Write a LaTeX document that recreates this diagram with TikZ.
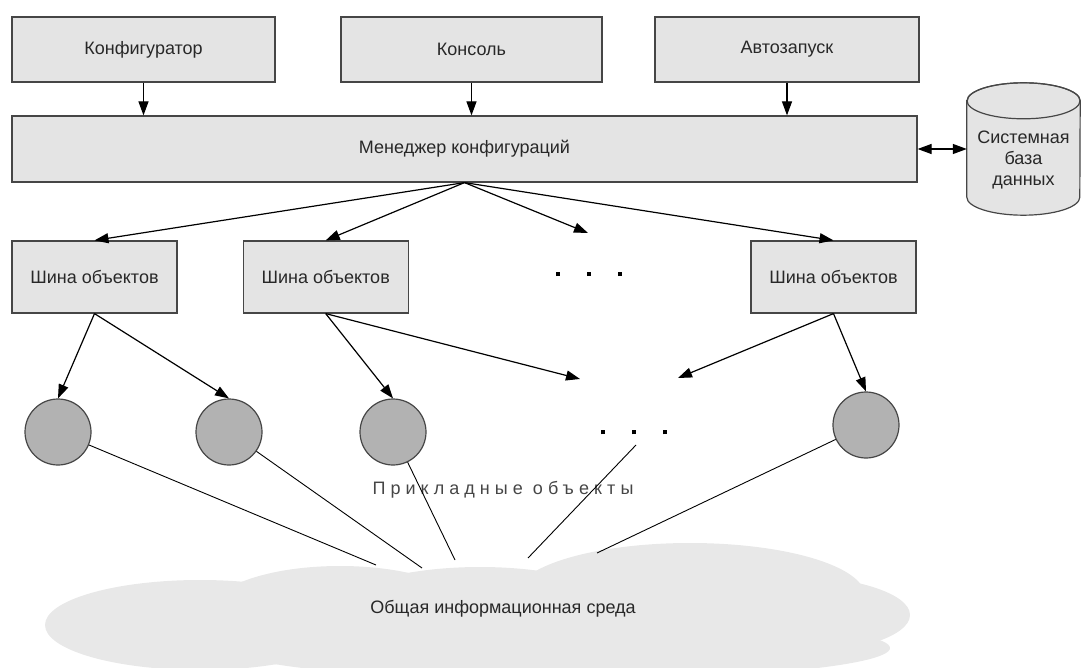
\documentclass[tikz,border=0pt]{standalone}
\usepackage{fontspec}
\setmainfont{Liberation Sans}
\usetikzlibrary{positioning,arrows.meta}

\definecolor{boxfill}{RGB}{228,228,228}
\definecolor{boxline}{RGB}{70,70,70}
\definecolor{objfill}{RGB}{178,178,178}
\definecolor{cloudfill}{RGB}{232,232,232}
\definecolor{inktext}{RGB}{40,40,40}

\newcommand{\dotrow}{\rule{4.5pt}{4.5pt}\hspace{26.5pt}\rule{4.5pt}{4.5pt}\hspace{26.5pt}\rule{4.5pt}{4.5pt}}

\begin{document}
\begin{tikzpicture}[x=1pt, y=-1pt,
    font=\fontsize{18}{21}\selectfont,
    >={Triangle[length=14pt,width=10pt]},
    box/.style={draw=boxline, fill=boxfill, line width=1.2pt, text=inktext, inner sep=0pt},
    topbox/.style={box, minimum height=65pt},
    busbox/.style={box, minimum width=165pt, minimum height=72pt},
    obj/.style={circle, draw=boxline, fill=objfill, line width=1.2pt, minimum size=66pt, inner sep=0pt},
    arr/.style={->, line width=1.2pt},
    link/.style={line width=0.9pt}]

\useasboundingbox (0,0) rectangle (1081,668);

   % cloud
   \begin{scope}
   \clip (0,0) rectangle (1081,668);
   \fill[cloudfill] (200,625) ellipse [x radius=155pt, y radius=45pt];
   \fill[cloudfill] (340,612) ellipse [x radius=130pt, y radius=46pt];
   \fill[cloudfill] (480,622) ellipse [x radius=160pt, y radius=55pt];
   \fill[cloudfill] (690,596) ellipse [x radius=175pt, y radius=53pt];
   \fill[cloudfill] (780,615) ellipse [x radius=130pt, y radius=40pt];
   \fill[cloudfill] (560,648) ellipse [x radius=330pt, y radius=32pt];
   \end{scope}

   % top row
   \node[topbox, minimum width=263pt] (konf) at (143.5,49.5) {Конфигуратор};
   \node[topbox, minimum width=261pt] (kons) at (471.5,49.5) {Консоль};
   \node[topbox, minimum width=264pt] (avto) at (787,49.5) {Автозапуск};
   \node[box, minimum width=905pt, minimum height=66pt] (mgr) at (464.5,149) {Менеджер конфигураций};

   % system database
   \node[minimum width=113pt, minimum height=132pt, inner sep=0pt] (db) at (1023.5,149) {};
   \draw[draw=boxline, fill=boxfill, line width=1.2pt]
       ([yshift=-18pt]db.north west) -- ([yshift=18pt]db.south west)
       arc[start angle=180, end angle=360, x radius=56.5pt, y radius=18pt]
       -- ([yshift=-18pt]db.north east)
       arc[start angle=0, end angle=180, x radius=56.5pt, y radius=18pt] -- cycle;
   \draw[draw=boxline, line width=1.2pt] ([yshift=-18pt]db.north) ellipse [x radius=56.5pt, y radius=18pt];
   \node[align=center, text=inktext] (dbtext) at (1023.5,160) {Системная\\база\\данных};

   % object buses
   \node[busbox] (bus1) at (94.5,277) {Шина объектов};
   \node[busbox, right=65pt of bus1] (bus2) {Шина объектов};
   \node[busbox] (bus3) at (833.5,277) {Шина объектов};
   \node[inner sep=0pt] (dotsA) at (589,274) {\dotrow};

   % application objects
   \node[obj] (obj1) at (58,432) {};
   \node[obj] (obj2) at (229,432) {};
   \node[obj] (obj3) at (393,432) {};
   \node[obj] (obj4) at (866,425) {};
   \node[inner sep=0pt] (dotsB) at (634,432) {\dotrow};

   \node[text=boxline] (apptxt) at (503,490) {\addfontfeatures{LetterSpace=28}Прикладные объекты};
   \node[text=inktext] (cloudtxt) at (503,609) {Общая информационная среда};

   % free ends
   \coordinate (gapA) at (588,233);
   \coordinate (gapB) at (580,379);
   \coordinate (gapC) at (678,378);
   \coordinate (dotsend) at (636,445);
   \coordinate (cl1) at (376,565);
   \coordinate (cl2) at (422,568);
   \coordinate (cl3) at (455,560);
   \coordinate (cl4) at (528,558);
   \coordinate (cl5) at (597,553);

   % arrows
   \draw[arr] (konf.south) -- (konf.south |- mgr.north);
   \draw[arr] (kons.south) -- (kons.south |- mgr.north);
   \draw[arr] (avto.south) -- (avto.south |- mgr.north);
   \draw[<->, line width=1.2pt] (mgr) -- (db);

   \draw[arr] (mgr.south) -- (bus1.north);
   \draw[arr] (mgr.south) -- (bus2.north);
   \draw[arr] (mgr.south) -- (gapA);
   \draw[arr] (mgr.south) -- (bus3.north);

   \draw[arr] (bus1.south) -- (obj1.north);
   \draw[arr] (bus1.south) -- (obj2.north);
   \draw[arr] (bus2.south) -- (obj3.north);
   \draw[arr] (bus2.south) -- (gapB);
   \draw[arr] (bus3.south) -- (gapC);
   \draw[arr] (bus3.south) -- (obj4.north);

   % links to the environment
   \draw[link] (obj1) -- (cl1);
   \draw[link] (obj2) -- (cl2);
   \draw[link] (obj3) -- (cl3);
   \draw[link] (dotsend) -- (cl4);
   \draw[link] (obj4) -- (cl5);
\end{tikzpicture}
\end{document}
